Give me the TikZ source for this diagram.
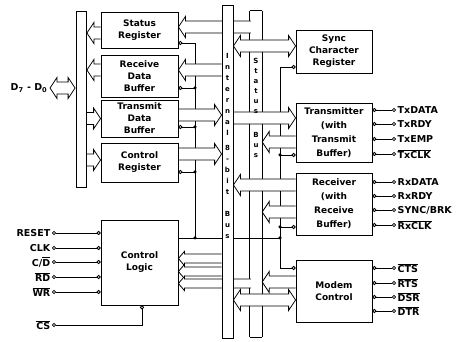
\documentclass[tikz,border=0pt]{standalone}
\usepackage{fontspec}
\setmainfont{DejaVu Sans}
\usepackage{tikz}
\usetikzlibrary{positioning, arrows.meta, backgrounds, calc}
\newcommand{\ovl}[1]{$\overline{\mbox{#1}}$}

\begin{document}
\begin{tikzpicture}[x=1pt, y=-1pt, every node/.style={font=\bfseries\fontsize{9}{12}\selectfont},
    block/.style={draw, thick, fill=white, minimum width=77pt, align=center, inner sep=1pt},
    busbar/.style={draw, thick, fill=white, minimum width=11pt, inner sep=0pt},
    wide/.style={fill=white, thick, to path={let \p1=(\tikztostart), \p2=(\tikztotarget), \n1={sign(\x2-\x1)} in
        (\x1,\y1+6pt) -- (\x2-\n1*7pt,\y1+6pt) -- (\x2-\n1*7pt,\y1+10.5pt) -- (\x2,\y1)
        -- (\x2-\n1*7pt,\y1-10.5pt) -- (\x2-\n1*7pt,\y1-6pt) -- (\x1,\y1-6pt)}},
    slim/.style={fill=white, thick, to path={let \p1=(\tikztostart), \p2=(\tikztotarget), \n1={sign(\x2-\x1)} in
        (\x1,\y1+4.5pt) -- (\x2-\n1*6pt,\y1+4.5pt) -- (\x2-\n1*6pt,\y1+7pt) -- (\x2,\y1)
        -- (\x2-\n1*6pt,\y1-7pt) -- (\x2-\n1*6pt,\y1-4.5pt) -- (\x1,\y1-4.5pt)}},
    wideboth/.style={fill=white, thick, to path={let \p1=(\tikztostart), \p2=(\tikztotarget), \n1={sign(\x2-\x1)} in
        (\x1+\n1*7pt,\y1+6pt) -- (\x2-\n1*7pt,\y1+6pt) -- (\x2-\n1*7pt,\y1+10.5pt) -- (\x2,\y1)
        -- (\x2-\n1*7pt,\y1-10.5pt) -- (\x2-\n1*7pt,\y1-6pt) -- (\x1+\n1*7pt,\y1-6pt)
        -- (\x1+\n1*7pt,\y1-10.5pt) -- (\x1,\y1) -- (\x1+\n1*7pt,\y1+10.5pt) -- cycle}},
    wire/.style={thick},
    pin/.style={thick, {Circle[open,length=4pt]}-{Circle[open,length=4pt]}},
    jdot/.style={circle, fill, inner sep=0pt, minimum size=3.5pt},
    sig/.style={inner sep=1.5pt, font=\bfseries\fontsize{9.5}{12}\selectfont}]
    \useasboundingbox (0,0) rectangle (459,342);

    % registers on the data bus side
    \node [block, minimum height=36pt] (stat) at (139.5,30) {Status\\Register};
    \node [block, minimum height=42pt] (rdb) at (139.5,76) {Receive\\Data\\Buffer};
    \node [block, minimum height=37pt] (tdb) at (139.5,118.5) {Transmit\\Data\\Buffer};
    \node [block, minimum height=39pt] (creg) at (139.5,162.5) {Control\\Register};
    \node [block, minimum height=85pt] (clogic) at (139.5,262.5) {Control\\Logic};

    % serial side
    \node [block, minimum width=76pt, minimum height=43pt] (sync) at (334,51.5) {Sync\\Character\\Register};
    \node [block, minimum width=76pt, minimum height=59pt, font=\bfseries\fontsize{9}{14}\selectfont] (tx) at (334,132.5) {Transmitter\\(with\\Transmit\\Buffer)};
    \node [block, minimum width=76pt, minimum height=62pt, font=\bfseries\fontsize{9}{14}\selectfont] (rx) at (334,204) {Receiver\\(with\\Receive\\Buffer)};
    \node [block, minimum width=76pt, minimum height=62pt] (modem) at (334,291) {Modem\\Control};

    % buses
    \node [busbar, minimum width=10pt, minimum height=176pt] (dbus) at (81,99) {};
    \node [busbar, minimum height=333pt] (ibus) at (227.5,171.5) {};
    \node [inner sep=0pt, minimum width=12pt, minimum height=326pt] (sbus) at (256,174) {};
    \node [inner sep=0pt, anchor=north, align=center, font=\bfseries\fontsize{7}{11}\selectfont] at (227.5,53) {I\\n\\t\\e\\r\\n\\a\\l\\[4pt]8\\-\\b\\i\\t\\[11pt]B\\u\\s};
    \node [inner sep=0pt, align=center, font=\bfseries\fontsize{7}{10}\selectfont] at (256,85.5) {S\\t\\a\\t\\u\\s};
    \node [inner sep=0pt, align=center, font=\bfseries\fontsize{7}{10}\selectfont] at (256,145) {B\\u\\s};

    % pins
    \node [sig, anchor=east] (dlab) at (49,88) {D\textsubscript{7} - D\textsubscript{0}};
    \node [sig, anchor=east] (reset) at (52,233) {RESET};
    \node [sig, anchor=east] (clk) at (52,248) {CLK};
    \node [sig, anchor=east] (cd) at (52,262) {C/\ovl{D}};
    \node [sig, anchor=east] (rd) at (52,277) {\ovl{RD}};
    \node [sig, anchor=east] (wr) at (52,292) {\ovl{WR}};
    \node [sig, anchor=east] (cs) at (52,325) {\ovl{CS}};
    \node [sig, anchor=west] (txd) at (396,110) {TxDATA};
    \node [sig, anchor=west] (txr) at (396,124) {TxRDY};
    \node [sig, anchor=west] (txe) at (396,139) {TxEMP};
    \node [sig, anchor=west] (txc) at (396,154) {\ovl{TxCLK}};
    \node [sig, anchor=west] (rxd) at (396,182) {RxDATA};
    \node [sig, anchor=west] (rxr) at (396,196) {RxRDY};
    \node [sig, anchor=west] (sbrk) at (396,210) {SYNC/BRK};
    \node [sig, anchor=west] (rxc) at (396,225) {\ovl{RxCLK}};
    \node [sig, anchor=west] (cts) at (396,268) {\ovl{CTS}};
    \node [sig, anchor=west] (rts) at (396,283) {\ovl{RTS}};
    \node [sig, anchor=west] (dsr) at (396,297) {\ovl{DSR}};
    \node [sig, anchor=west] (dtr) at (396,311) {\ovl{DTR}};

    % control pins and rails
    \coordinate (ctl) at (280,238);
    \coordinate (lrail) at (195,238);
    \coordinate (statp) at ([yshift=-13pt]stat.east);
    \coordinate (rdbp) at ([yshift=-12pt]rdb.east);
    \coordinate (tdbp) at ([yshift=-8.5pt]tdb.east);
    \coordinate (cregp) at ([yshift=-9.5pt]creg.east);
    \coordinate (syncp) at ([yshift=-15.5pt]sync.west);
    \coordinate (txp) at ([yshift=-22.5pt]tx.west);
    \coordinate (rxp) at ([yshift=-23pt]rx.west);
    \coordinate (modp) at ([yshift=23pt]modem.west);

    % ends of the wide bus paths
    \coordinate (statl) at ([yshift=-3pt]stat.west);
    \coordinate (statr) at ([yshift=3pt]stat.east);
    \coordinate (rdbl) at ([yshift=6pt]rdb.west);
    \coordinate (rdbr) at ([yshift=6pt]rdb.east);
    \coordinate (tdbr) at ([yshift=3.5pt]tdb.east);
    \coordinate (cregl) at ([yshift=2.5pt]creg.west);
    \coordinate (cregr) at ([yshift=8.5pt]creg.east);
    \coordinate (cla) at ([yshift=4pt]clogic.east);
    \coordinate (clb) at ([yshift=-9pt]clogic.east);
    \coordinate (clc) at ([yshift=-21pt]clogic.east);
    \coordinate (syncl) at ([yshift=5.5pt]sync.west);
    \coordinate (txa) at ([yshift=14.5pt]tx.west);
    \coordinate (txb) at ([yshift=-9.5pt]tx.west);
    \coordinate (rxa) at ([yshift=19pt]rx.west);
    \coordinate (rxb) at ([yshift=-8pt]rx.west);
    \coordinate (moda) at ([yshift=9pt]modem.west);
    \coordinate (modb) at ([yshift=-9pt]modem.west);

    \foreach \p in {reset, clk, cd, rd, wr}
        \draw [pin] (\p.east) -- (clogic.west |- \p.east);
    \draw [pin] (cs.east) -| ([xshift=2.5pt]clogic.south);
    \foreach \p in {txd, txr, txe, txc}
        \draw [pin] (tx.east |- \p.west) -- (\p.west);
    \foreach \p in {rxd, rxr, sbrk, rxc}
        \draw [pin] (rx.east |- \p.west) -- (\p.west);
    \foreach \p in {cts, rts, dsr, dtr}
        \draw [pin] (modem.east |- \p.west) -- (\p.west);

    \begin{scope}[on background layer]
        \draw [thick] (sbus.north west) -- (sbus.south west) (sbus.north east) -- (sbus.south east);
        \draw [thick] (sbus.north west) -- (sbus.north east) (sbus.south west) -- (sbus.south east);

        % control wiring
        \draw [wire, {Circle[open,length=4pt]}-] (statp) -| (lrail);
        \draw [wire] (clogic.east |- ctl) -- (ctl);
        \foreach \p in {rdbp, tdbp, cregp}
            \draw [wire, {Circle[open,length=4pt]}-] (\p) -- (lrail |- \p);
        \draw [wire, {Circle[open,length=4pt]}-{Circle[open,length=4pt]}] (syncp) -| (ctl |- modp) -- (modp);
        \draw [wire, {Circle[open,length=4pt]}-] (txp) -- (ctl |- txp);
        \draw [wire, {Circle[open,length=4pt]}-] (rxp) -- (ctl |- rxp);

        % wide bus paths
        \draw [wideboth] ([xshift=1pt]dlab.east) to ([xshift=-0.5pt]dbus.west);
        \draw [wide] (statl) to ([xshift=0.5pt]statl -| dbus.east);
        \draw [wide] (rdbl) to ([xshift=0.5pt]rdbl -| dbus.east);
        \draw [wide] ([xshift=-1pt]dbus.east |- tdb.west) to (tdb.west);
        \draw [wide] ([xshift=-1pt]dbus.east |- cregl) to (cregl);
        \draw [wide] ([xshift=1pt]sbus.west |- statr) to (statr);
        \draw [wide] (ibus.west |- rdbr) to (rdbr);
        \draw [wide] (tdbr) to (ibus.west |- tdbr);
        \draw [wide] (cregr) to (ibus.west |- cregr);
        \draw [slim] (ibus.west |- cla) to (cla);
        \draw [slim] (ibus.west |- clb) to (clb);
        \draw [slim] ([xshift=1pt]sbus.west |- clc) to (clc);
        \draw [wideboth] (ibus.east |- syncl) to (syncl);
        \draw [wide] (ibus.east |- txa) to (txa);
        \draw [wide] (txb) to (sbus.east |- txb);
        \draw [wide] (rxa) to (ibus.east |- rxa);
        \draw [wide] (rxb) to (sbus.east |- rxb);
        \draw [wide] (moda) to (sbus.east |- moda);
        \draw [wideboth] (ibus.east |- modb) to (modb);
    \end{scope}

    \foreach \p in {rdbp, tdbp, cregp}
        \node [jdot] at (lrail |- \p) {};
    \node [jdot] at (lrail) {};
    \node [jdot] at (ctl) {};
    \node [jdot] at (ctl |- txp) {};
    \node [jdot] at (ctl |- rxp) {};
\end{tikzpicture}
\end{document}
